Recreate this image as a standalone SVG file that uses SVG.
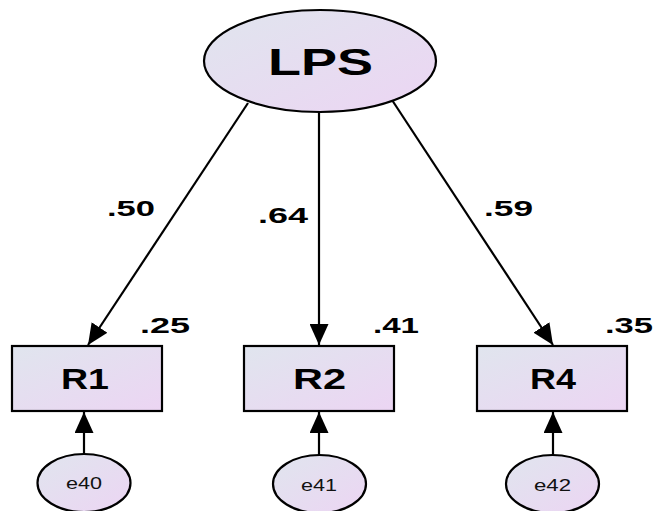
<svg xmlns="http://www.w3.org/2000/svg" width="656" height="511" viewBox="0 0 656 511">
  <defs>
    <linearGradient id="fillGrad" x1="0" y1="0" x2="1" y2="1">
      <stop offset="0" stop-color="#e0e5ee"/>
      <stop offset="1" stop-color="#ecd5f3"/>
    </linearGradient>
    <marker id="arrow" markerUnits="userSpaceOnUse" markerWidth="21" markerHeight="19" refX="21" refY="9.5" orient="auto">
      <path d="M0,0 L21,9.5 L0,19 Z" fill="#000"/>
    </marker>
    <style>
      .shape { fill: url(#fillGrad); stroke: #000; stroke-width: 2.2; }
      .edge { stroke: #000; stroke-width: 2.2; fill: none; marker-end: url(#arrow); }
      .bold { font-family: "Liberation Sans", Arial, sans-serif; font-weight: bold; fill: #000; }
      .small { font-family: "Liberation Sans", Arial, sans-serif; fill: #111; }
    </style>
  </defs>

  <rect width="656" height="511" fill="#fff"/>

  <!-- connectors -->
  <g id="connectors">
    <line class="edge" x1="248" y1="103" x2="88" y2="345"/>
    <line class="edge" x1="319" y1="112" x2="319" y2="345"/>
    <line class="edge" x1="392" y1="100" x2="553" y2="345"/>
    <line class="edge" x1="84" y1="454" x2="84" y2="412"/>
    <line class="edge" x1="319" y1="455" x2="319" y2="412"/>
    <line class="edge" x1="553" y1="455" x2="553" y2="412"/>
  </g>

  <!-- path coefficients and R-squared values -->
  <g id="labels">
    <text class="bold" x="107" y="216" font-size="22" textLength="48" lengthAdjust="spacingAndGlyphs">.50</text>
    <text class="bold" x="258" y="223" font-size="22" textLength="50" lengthAdjust="spacingAndGlyphs">.64</text>
    <text class="bold" x="484" y="216" font-size="22" textLength="49" lengthAdjust="spacingAndGlyphs">.59</text>
    <text class="bold" x="140" y="333" font-size="22" textLength="50" lengthAdjust="spacingAndGlyphs">.25</text>
    <text class="bold" x="373" y="333" font-size="22" textLength="46" lengthAdjust="spacingAndGlyphs">.41</text>
    <text class="bold" x="605" y="333" font-size="22" textLength="48" lengthAdjust="spacingAndGlyphs">.35</text>
  </g>

  <g id="LPS">
    <ellipse class="shape" cx="320" cy="61" rx="116" ry="51"/>
    <text class="bold" x="268" y="75" font-size="37" textLength="105" lengthAdjust="spacingAndGlyphs">LPS</text>
  </g>

  <g id="R1">
    <rect class="shape" x="12" y="346" width="150" height="65"/>
    <text class="bold" x="61" y="389" font-size="29" textLength="48" lengthAdjust="spacingAndGlyphs">R1</text>
  </g>
  <g id="R2">
    <rect class="shape" x="244" y="346" width="150" height="65"/>
    <text class="bold" x="293" y="389" font-size="29" textLength="53" lengthAdjust="spacingAndGlyphs">R2</text>
  </g>
  <g id="R4">
    <rect class="shape" x="477" y="346" width="150" height="65"/>
    <text class="bold" x="530" y="389" font-size="29" textLength="46" lengthAdjust="spacingAndGlyphs">R4</text>
  </g>

  <g id="e40">
    <ellipse class="shape" cx="84" cy="483" rx="46.5" ry="29"/>
    <text class="small" x="66" y="489" font-size="17" textLength="36" lengthAdjust="spacingAndGlyphs">e40</text>
  </g>
  <g id="e41">
    <ellipse class="shape" cx="319.5" cy="484" rx="46.5" ry="29"/>
    <text class="small" x="301" y="491" font-size="17" textLength="36" lengthAdjust="spacingAndGlyphs">e41</text>
  </g>
  <g id="e42">
    <ellipse class="shape" cx="552.5" cy="484" rx="46.5" ry="29"/>
    <text class="small" x="534" y="491" font-size="17" textLength="37" lengthAdjust="spacingAndGlyphs">e42</text>
  </g>
</svg>
